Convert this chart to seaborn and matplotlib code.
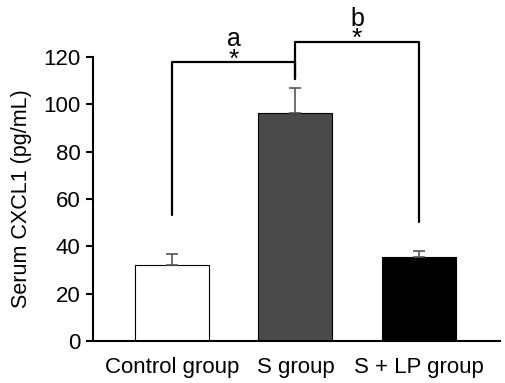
import numpy as np
import pandas as pd
import matplotlib
matplotlib.use('Agg')
import matplotlib.pyplot as plt
import seaborn as sns

# data
groups = ['Control group', 'S group', 'S + LP group']
means = [32.1, 96.2, 35.4]
errors = [4.8, 10.8, 2.6]
bar_colors = ['#ffffff', '#4a4a4a', '#000000']

# significance brackets: (left group, right group, left foot, right foot, top, label)
brackets = [
    (0, 1, 53.4, 110.8, 117.7, 'a'),
    (1, 2, 110.8, 50.1, 126.3, 'b'),
]

sns.set_style('white')
plt.rcParams['font.family'] = ['Liberation Sans', 'DejaVu Sans']
plt.rcParams.update({'text.color': 'black', 'axes.labelcolor': 'black',
                     'xtick.color': 'black', 'ytick.color': 'black'})

df = pd.DataFrame({'group': groups, 'value': means})

fig = plt.figure(figsize=(5.05, 3.83), dpi=100)
ax = fig.add_axes([0.184, 0.1097, 0.806, 0.7415])

sns.barplot(data=df, x='group', y='value', hue='group', palette=bar_colors,
            edgecolor='black', linewidth=0.8, width=0.6, errorbar=None,
            legend=False, ax=ax)

# upper error bars only
x = np.arange(len(groups))
ax.errorbar(x, means, yerr=[np.zeros(len(errors)), errors], fmt='none',
            ecolor='#555555', elinewidth=1.2, capsize=4, capthick=1.2, zorder=1)

for i0, i1, y0, y1, top, lab in brackets:
    ax.plot([i0, i0, i1, i1], [y0, top, top, y1], color='black', lw=1.6,
            clip_on=False, zorder=5)
    xm = (i0 + i1) / 2
    ax.text(xm, top - 1.8, '*', ha='center', va='baseline', fontsize=19, clip_on=False)
    ax.text(xm, top + 7.0, lab, ha='center', va='baseline', fontsize=18, clip_on=False)

ax.set_xlim(-0.64, 2.656)
ax.set_ylim(0, 120)
ax.set_yticks(range(0, 121, 20))
ax.set_xlabel('')
ax.set_ylabel('Serum CXCL1 (pg/mL)', fontsize=15.5, labelpad=8)
ax.tick_params(axis='y', which='major', left=True, direction='out', length=5,
               width=1.5, labelsize=16, pad=4)
ax.tick_params(axis='x', bottom=False, labelsize=16, pad=8)

sns.despine(ax=ax)
for s in ['left', 'bottom']:
    ax.spines[s].set_linewidth(1.5)
    ax.spines[s].set_color('black')

fig.savefig('out.png', dpi=100)
